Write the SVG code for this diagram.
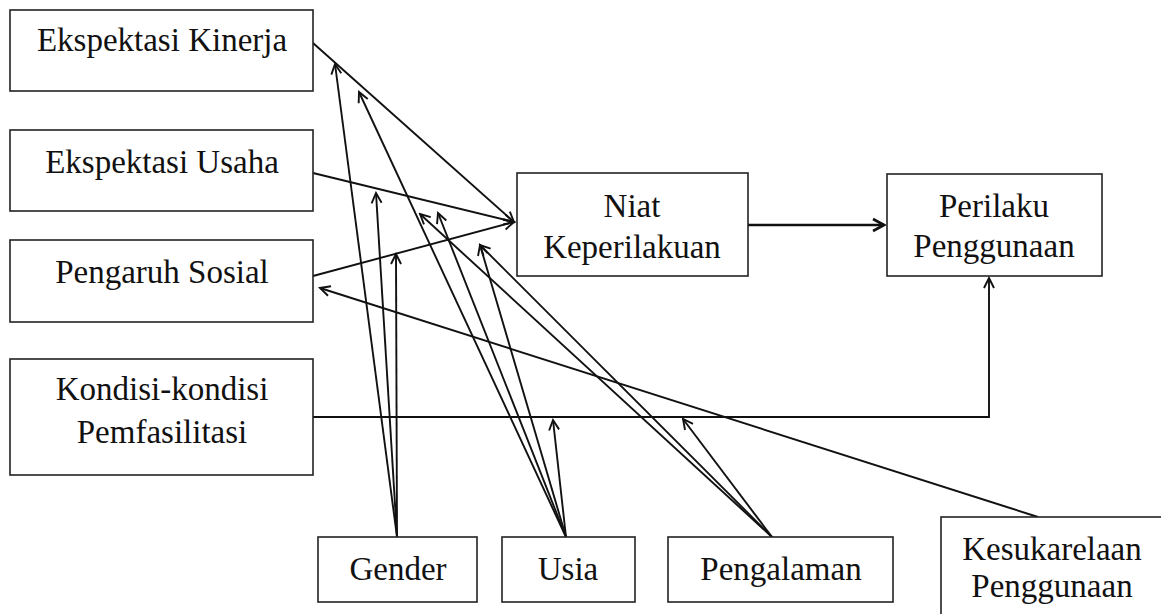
<svg xmlns="http://www.w3.org/2000/svg" width="1161" height="614" viewBox="0 0 1161 614">
<style>
.box{fill:#fff;stroke:#222;stroke-width:1.6}
text{font-family:'Liberation Serif','Times New Roman','DejaVu Serif',serif;font-size:33px;fill:#111;text-anchor:middle}
.c{fill:none;stroke:#111;stroke-width:1.9}
.m{fill:none;stroke:#111;stroke-width:2.6}
</style>
<defs>
<marker id="ah" markerUnits="userSpaceOnUse" viewBox="-12 -7 14 14" markerWidth="14" markerHeight="14" refX="0" refY="0" orient="auto">
<path d="M-10,-5 L0,0 L-10,5" fill="none" stroke="#111" stroke-width="1.9"/>
</marker>
<marker id="ahb" markerUnits="userSpaceOnUse" viewBox="-14 -8 16 16" markerWidth="16" markerHeight="16" refX="0" refY="0" orient="auto">
<path d="M-11,-6 L0,0 L-11,6" fill="none" stroke="#111" stroke-width="2.6"/>
</marker>
</defs>
<rect width="1161" height="614" fill="#fff"/>
<g id="connectors">
<line class="c" x1="313" y1="43" x2="514" y2="222" marker-end="url(#ah)"/>
<line class="c" x1="313" y1="173" x2="514" y2="222" marker-end="url(#ah)"/>
<line class="c" x1="313" y1="276" x2="514" y2="222" marker-end="url(#ah)"/>
<line class="m" x1="748" y1="225" x2="884" y2="225" marker-end="url(#ahb)"/>
<polyline class="c" points="313,417 989,417 989,278" marker-end="url(#ah)"/>
<line class="c" x1="1038" y1="517" x2="320" y2="288" marker-end="url(#ah)"/>
<line class="c" x1="397" y1="537" x2="335" y2="64" marker-end="url(#ah)"/>
<line class="c" x1="397" y1="537" x2="376" y2="193" marker-end="url(#ah)"/>
<line class="c" x1="397" y1="537" x2="396" y2="254" marker-end="url(#ah)"/>
<line class="c" x1="566" y1="537" x2="359" y2="92" marker-end="url(#ah)"/>
<line class="c" x1="566" y1="537" x2="438" y2="213" marker-end="url(#ah)"/>
<line class="c" x1="566" y1="537" x2="480" y2="245" marker-end="url(#ah)"/>
<line class="c" x1="566" y1="537" x2="553" y2="420" marker-end="url(#ah)"/>
<line class="c" x1="772" y1="537" x2="420" y2="214" marker-end="url(#ah)"/>
<line class="c" x1="772" y1="537" x2="480" y2="245" marker-end="url(#ah)"/>
<line class="c" x1="772" y1="537" x2="683" y2="419" marker-end="url(#ah)"/>
</g>
<g id="ekspektasi-kinerja"><rect class="box" x="10" y="10" width="303" height="81"/><text x="162" y="51">Ekspektasi Kinerja</text></g>
<g id="ekspektasi-usaha"><rect class="box" x="10" y="130" width="303" height="81"/><text x="162" y="173">Ekspektasi Usaha</text></g>
<g id="pengaruh-sosial"><rect class="box" x="10" y="240" width="303" height="82"/><text x="162" y="283">Pengaruh Sosial</text></g>
<g id="kondisi"><rect class="box" x="10" y="359" width="303" height="116"/><text x="162" y="400">Kondisi-kondisi</text><text x="162" y="443">Pemfasilitasi</text></g>
<g id="niat"><rect class="box" x="517" y="173" width="231" height="103"/><text x="632" y="217">Niat</text><text x="632" y="258">Keperilakuan</text></g>
<g id="perilaku"><rect class="box" x="887" y="174" width="215" height="102"/><text x="994" y="217">Perilaku</text><text x="994" y="257">Penggunaan</text></g>
<g id="gender"><rect class="box" x="318" y="537" width="159" height="65"/><text x="398" y="580">Gender</text></g>
<g id="usia"><rect class="box" x="502" y="537" width="133" height="65"/><text x="568" y="580">Usia</text></g>
<g id="pengalaman"><rect class="box" x="668" y="537" width="225" height="65"/><text x="781" y="580">Pengalaman</text></g>
<g id="kesukarelaan"><rect class="box" x="941" y="517" width="240" height="120"/><text x="1052" y="560">Kesukarelaan</text><text x="1052" y="597">Penggunaan</text></g>
</svg>
